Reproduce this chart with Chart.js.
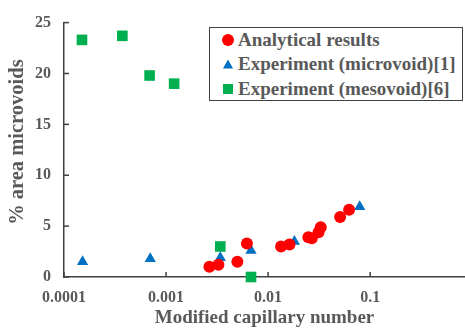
<!DOCTYPE html>
<html>
<head>
<meta charset="utf-8">
<script src="https://cdn.jsdelivr.net/npm/chart.js@4.4.1/dist/chart.umd.min.js"></script>
<style>
  html, body { margin: 0; padding: 0; background: #fff; }
  #wrap { position: relative; width: 465px; height: 329px; overflow: hidden; }
  #legend {
    position: absolute; left: 209px; top: 27px; width: 254px; height: 74px;
    border: 1.5px solid #404040; background: #fff; box-sizing: border-box;
    font: bold 19px "Liberation Serif", serif; color: #595959;
  }
  #legend div { position: absolute; left: 0; height: 22px; line-height: 22px; white-space: nowrap; }
  #legend .mk { position: absolute; left: 18px; top: 11px; transform: translate(-50%, -50%); }
  #legend .tx { position: absolute; left: 28px; top: 0; }
</style>
</head>
<body>
<div id="wrap">
  <canvas id="chart" width="465" height="329"></canvas>
  <div id="legend"></div>
</div>
<script>
const xTicks = [0.0001, 0.001, 0.01, 0.1];
const yTicks = [0, 5, 10, 15, 20, 25];

const analyticalX = [0.00266, 0.00326, 0.0050, 0.0062, 0.0134, 0.0162, 0.0248, 0.0268, 0.0312, 0.0328, 0.0508, 0.0622];
const analyticalY = [1.0, 1.2, 1.5, 3.3, 3.0, 3.2, 3.9, 3.8, 4.4, 4.9, 5.9, 6.6];

const microX = [0.000152, 0.0007, 0.0034, 0.0068, 0.0181, 0.079];
const microY = [1.5, 1.8, 1.9, 2.6, 3.5, 6.9];

const mesoX = [0.00015, 0.000373, 0.00069, 0.0012, 0.0034, 0.0068];
const mesoY = [23.3, 23.7, 19.8, 19.0, 3.0, 0.0];

const labels = ['Analytical results', 'Experiment (microvoid)[1]', 'Experiment (mesovoid)[6]'];
const colors = ['#ff0000', '#0070c0', '#00b050'];

const FONT = '"Liberation Serif", "Times New Roman", serif';
const GRAY = '#595959';

function pts(xs, ys) {
  return xs.map((x, i) => ({ x, y: ys[i] }));
}

// tick marks pointing into the plot
const innerTicks = {
  id: 'innerTicks',
  afterDraw(chart) {
    const ctx = chart.ctx;
    const xs = chart.scales.x, ys = chart.scales.y;
    ctx.save();
    ctx.strokeStyle = '#404040';
    ctx.lineWidth = 1.5;
    xs.ticks.forEach(t => {
      const px = xs.getPixelForValue(t.value);
      ctx.beginPath();
      ctx.moveTo(px, xs.top);
      ctx.lineTo(px, xs.top - 5);
      ctx.stroke();
    });
    ys.ticks.forEach(t => {
      const py = ys.getPixelForValue(t.value);
      ctx.beginPath();
      ctx.moveTo(ys.right, py);
      ctx.lineTo(ys.right + 5, py);
      ctx.stroke();
    });
    ctx.restore();
  }
};

new Chart(document.getElementById('chart').getContext('2d'), {
  type: 'scatter',
  data: {
    datasets: [
      {
        label: labels[0],
        data: pts(analyticalX, analyticalY),
        pointStyle: 'circle',
        pointRadius: 6,
        backgroundColor: colors[0],
        borderColor: colors[0],
        borderWidth: 0
      },
      {
        label: labels[1],
        data: pts(microX, microY),
        pointStyle: 'triangle',
        pointRadius: 6.5,
        backgroundColor: colors[1],
        borderColor: colors[1],
        borderWidth: 0
      },
      {
        label: labels[2],
        data: pts(mesoX, mesoY),
        pointStyle: 'rect',
        pointRadius: 7.5,
        backgroundColor: colors[2],
        borderColor: colors[2],
        borderWidth: 0
      }
    ]
  },
  options: {
    responsive: false,
    animation: false,
    clip: false,
    layout: { autoPadding: false, padding: { top: 17, right: 0, bottom: 0, left: 0 } },
    plugins: {
      legend: { display: false },
      tooltip: { enabled: false }
    },
    scales: {
      x: {
        type: 'logarithmic',
        min: 0.0001,
        max: 0.85,
        afterBuildTicks(scale) {
          scale.ticks = xTicks.map(v => ({ value: v }));
        },
        afterFit(scale) { scale.height = 52; },
        grid: { display: false, drawTicks: false },
        border: { color: '#404040', width: 1.5 },
        ticks: {
          padding: 11,
          color: GRAY,
          font: { family: FONT, size: 16, weight: 'bold' },
          callback: v => String(v),
          maxRotation: 0
        },
        title: {
          display: true,
          text: 'Modified capillary number',
          color: GRAY,
          font: { family: FONT, size: 19, weight: 'bold' },
          padding: { top: 1, bottom: 0 }
        }
      },
      y: {
        min: 0,
        max: 25,
        afterBuildTicks(scale) {
          scale.ticks = yTicks.map(v => ({ value: v }));
        },
        afterFit(scale) { scale.width = 64; },
        grid: { display: false, drawTicks: false },
        border: { color: '#404040', width: 1.5 },
        ticks: {
          padding: 13,
          color: GRAY,
          font: { family: FONT, size: 16, weight: 'bold' }
        },
        title: {
          display: true,
          text: '\u00a0\u00a0\u00a0% area microvoids',
          color: GRAY,
          font: { family: FONT, size: 20.5, weight: 'bold' },
          padding: { top: 5, bottom: 5 }
        }
      }
    }
  },
  plugins: [innerTicks]
});

// legend box drawn over the plot
const legend = document.getElementById('legend');
const markers = [
  '<span class="mk" style="width:12px;height:12px;border-radius:50%;background:' + colors[0] + '"></span>',
  '<span class="mk" style="width:0;height:0;border-left:5.5px solid transparent;border-right:5.5px solid transparent;border-bottom:9px solid ' + colors[1] + '"></span>',
  '<span class="mk" style="width:10px;height:10px;background:' + colors[2] + '"></span>'
];
labels.forEach((l, i) => {
  const d = document.createElement('div');
  d.style.top = (0.5 + i * 24.5) + 'px';
  d.innerHTML = markers[i] + '<span class="tx">' + l + '</span>';
  legend.appendChild(d);
});
</script>
</body>
</html>
